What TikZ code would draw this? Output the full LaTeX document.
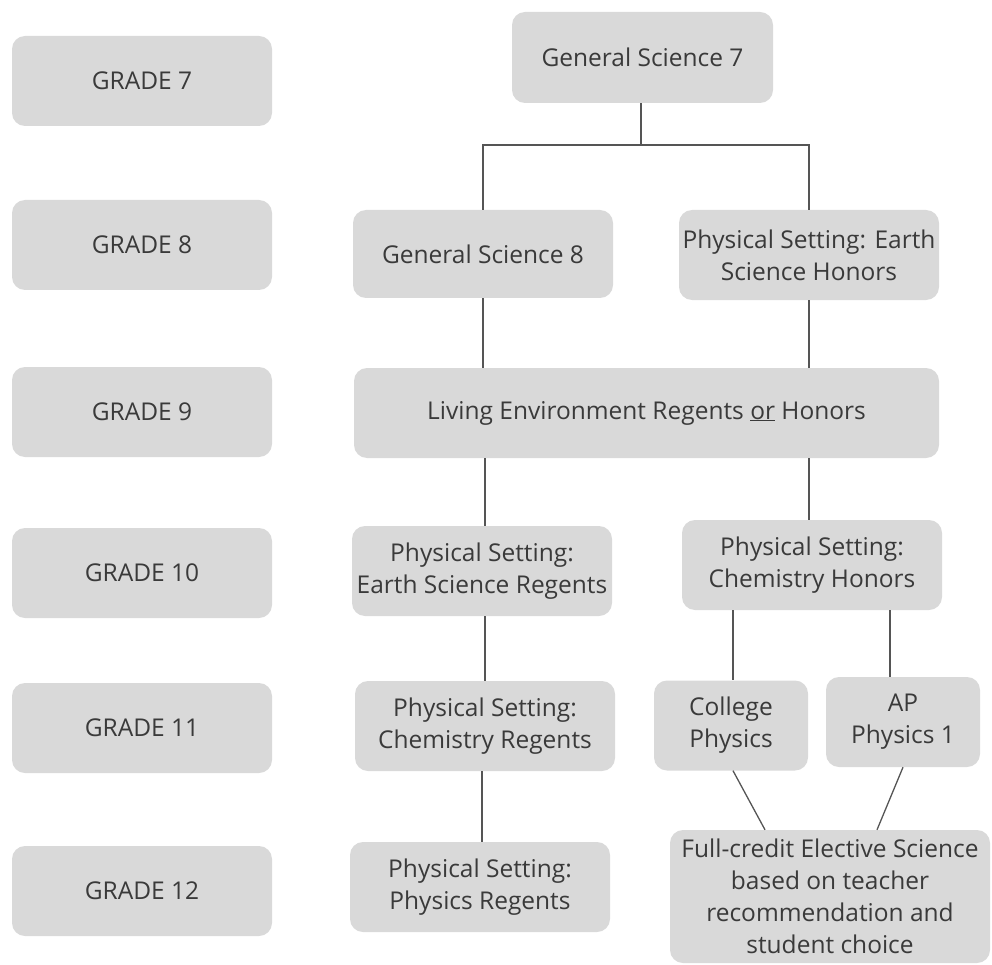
\documentclass[tikz,border=0pt]{standalone}
\usepackage{fontspec}
\setmainfont{Open Sans}
\definecolor{boxgray}{HTML}{D9D9D9}
\definecolor{txtgray}{HTML}{3A3A3A}
\definecolor{linegray}{HTML}{555555}
\begin{document}
\begin{tikzpicture}[x=1pt,y=-1pt,
  box/.style={draw=none,fill=boxgray,rounded corners=13pt,inner sep=0pt,
    text=txtgray,align=center,font=\fontsize{24.5}{32}\selectfont},
  conn/.style={draw=linegray,line width=1.3pt}]
\useasboundingbox (0,0) rectangle (992,965);
% grade boxes
\foreach \g/\y in {7/81,8/245,9/412,10/573,11/728,12/891}{
  \node[box,minimum width=260pt,minimum height=90pt] (g\g) at (142,\y) {\raisebox{-5pt}{GRADE \g}};
}
\node[box,minimum width=261pt,minimum height=91pt] (gs7) at (642.5,57.5) {General Science 7};
\node[box,minimum width=260pt,minimum height=88pt] (gs8) at (483,254) {General Science 8};
\node[box,minimum width=260pt,minimum height=90pt] (esh) at (809,255) {Physical Setting: Earth\\Science Honors};
\node[box,minimum width=585pt,minimum height=90pt] (le) at (646.5,413) {Living Environment Regents \underline{or} Honors};
\node[box,minimum width=260pt,minimum height=90pt] (esr) at (482,571) {Physical Setting:\\Earth Science Regents};
\node[box,minimum width=260pt,minimum height=90pt] (ch) at (812,565) {Physical Setting:\\Chemistry Honors};
\node[box,minimum width=260pt,minimum height=90pt] (cr) at (485,726) {Physical Setting:\\Chemistry Regents};
\node[box,minimum width=154pt,minimum height=90pt] (cp) at (731,725.5) {College\\Physics};
\node[box,minimum width=154pt,minimum height=90pt] (ap) at (903,722) {AP\\Physics 1};
\node[box,minimum width=260pt,minimum height=90pt] (pr) at (480,887) {Physical Setting:\\Physics Regents};
\node[box,minimum width=320pt,minimum height=133pt] (fc) at (830,896.5) {Full-credit Elective Science\\based on teacher\\recommendation and\\student choice};
% connectors
\coordinate (j) at (641,145);
\draw[conn] ([xshift=-1.5pt]gs7.south) -- ([xshift=-1.5pt]gs7.south |- j);
\draw[conn] (gs8.north) -- (gs8.north |- j) -- (esh.north |- j) -- (esh.north);
\draw[conn] (gs8.south) -- (gs8.south |- le.north);
\draw[conn] (esh.south) -- (esh.south |- le.north);
\draw[conn] ([xshift=3pt]esr.north |- le.south) -- ([xshift=3pt]esr.north);
\draw[conn] (esh.south |- le.south) -- (esh.south |- ch.north);
\draw[conn] (cr.north |- esr.south) -- (cr.north);
\draw[conn] ([xshift=2pt]cp.north |- ch.south) -- ([xshift=2pt]cp.north);
\draw[conn] ([xshift=-13pt]ap.north |- ch.south) -- ([xshift=-13pt]ap.north);
\draw[conn] ([xshift=-3pt]cr.south) -- ([xshift=-3pt]cr.south |- pr.north);
\draw[conn] ([xshift=2pt]cp.south) -- ([xshift=-65pt]fc.north);
\draw[conn] ([xshift=0pt]ap.south) -- ([xshift=47pt]fc.north);
\end{tikzpicture}
\end{document}
